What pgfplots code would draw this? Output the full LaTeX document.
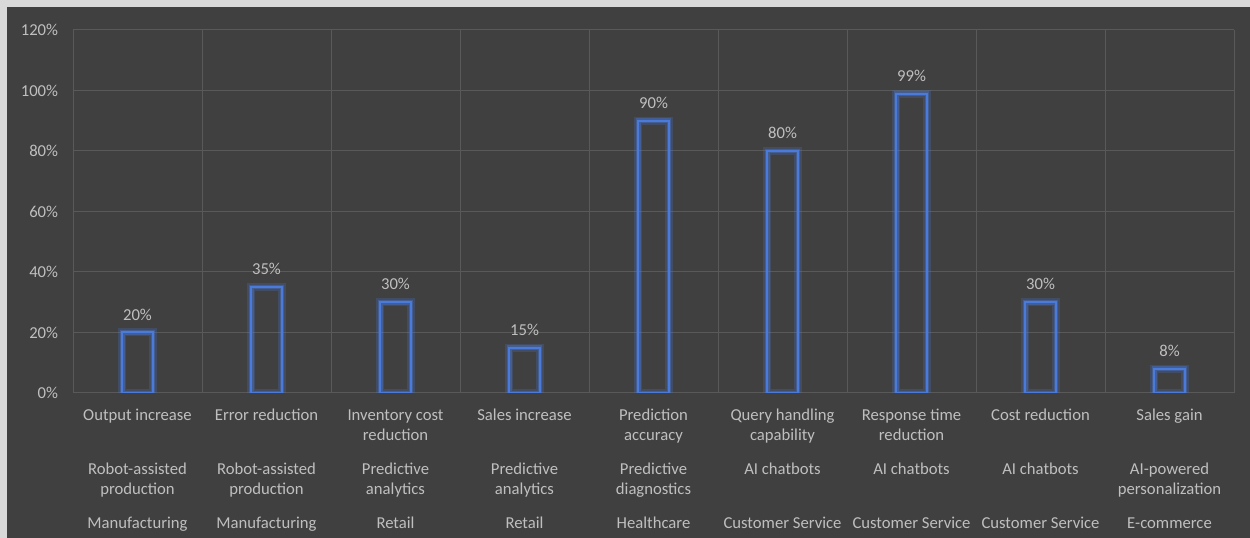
\documentclass[border=0pt]{standalone}
\usepackage{pgfplots}
\pgfplotsset{compat=1.18}
\usepackage{fontspec}
\setmainfont{Carlito}
\definecolor{bg}{HTML}{404040}
\definecolor{gridc}{HTML}{595959}
\definecolor{txt}{HTML}{BFBFBF}
\definecolor{barc}{HTML}{4A7BDB}
\definecolor{edge}{HTML}{D9D9D9}
% five fixed rows: metric (2 lines), application (2 lines), industry
\newcommand\lbl[5]{\strut#1\\\strut#2\\[10.5pt]\strut#3\\\strut#4\\[10.5pt]\strut#5}

\begin{document}
\begin{tikzpicture}[x=1pt,y=1pt]
\fill[bg] (0,0) rectangle (937.5,403.5);
\fill[edge] (0,398.25) rectangle (937.5,403.5);
\fill[edge] (0,0) rectangle (5.25,403.5);
\useasboundingbox (0,0) rectangle (937.5,403.5);
\begin{axis}[
    at={(54.75pt,108.75pt)}, anchor=south west,
    scale only axis, width=870.75pt, height=272.25pt,
    xmin=-0.5, xmax=8.5, ymin=0, ymax=120,
    axis line style={draw=none},
    tick style={draw=none},
    ytick={0,20,...,120},
    xtick={0,...,8},
    minor xtick={-0.5,0.5,...,8.5},
    ymajorgrids, xminorgrids,
    major grid style={gridc, line width=0.75pt},
    minor grid style={gridc, line width=0.75pt},
    font=\fontsize{12.5}{15}\selectfont,
    /pgf/number format/assume math mode=true,
    yticklabel={\pgfmathprintnumber{\tick}\%},
    yticklabel style={txt, anchor=east, inner sep=0pt, xshift=-11pt},
    xticklabel style={txt, align=center, anchor=north, inner sep=0pt, yshift=-10pt},
    xticklabels={
      {\lbl{Output increase}{}{Robot-assisted}{production}{Manufacturing}},
      {\lbl{Error reduction}{}{Robot-assisted}{production}{Manufacturing}},
      {\lbl{Inventory cost}{reduction}{Predictive}{analytics}{Retail}},
      {\lbl{Sales increase}{}{Predictive}{analytics}{Retail}},
      {\lbl{Prediction}{accuracy}{Predictive}{diagnostics}{Healthcare}},
      {\lbl{Query handling}{capability}{AI chatbots}{}{Customer Service}},
      {\lbl{Response time}{reduction}{AI chatbots}{}{Customer Service}},
      {\lbl{Cost reduction}{}{AI chatbots}{}{Customer Service}},
      {\lbl{Sales gain}{}{AI-powered}{personalization}{E-commerce}}},
]
% soft glow behind the outline
\addplot[ybar, bar width=23pt, bar shift=0pt, draw=barc, draw opacity=0.22,
    line width=6pt, fill=none]
    coordinates {(0,20) (1,35) (2,30) (3,15) (4,90) (5,80) (6,99) (7,30) (8,8)};
\addplot[ybar, bar width=23pt, bar shift=0pt, draw=barc, draw opacity=0.4,
    line width=3.5pt, fill=none]
    coordinates {(0,20) (1,35) (2,30) (3,15) (4,90) (5,80) (6,99) (7,30) (8,8)};
\addplot[ybar, bar width=23pt, bar shift=0pt, draw=barc, line width=1.5pt, fill=none,
    nodes near coords={\pgfmathprintnumber{\pgfplotspointmeta}\%},
    nodes near coords style={txt, anchor=center, yshift=13.5pt,
        /pgf/number format/assume math mode=true}]
    coordinates {(0,20) (1,35) (2,30) (3,15) (4,90) (5,80) (6,99) (7,30) (8,8)};
\end{axis}
\end{tikzpicture}
\end{document}
